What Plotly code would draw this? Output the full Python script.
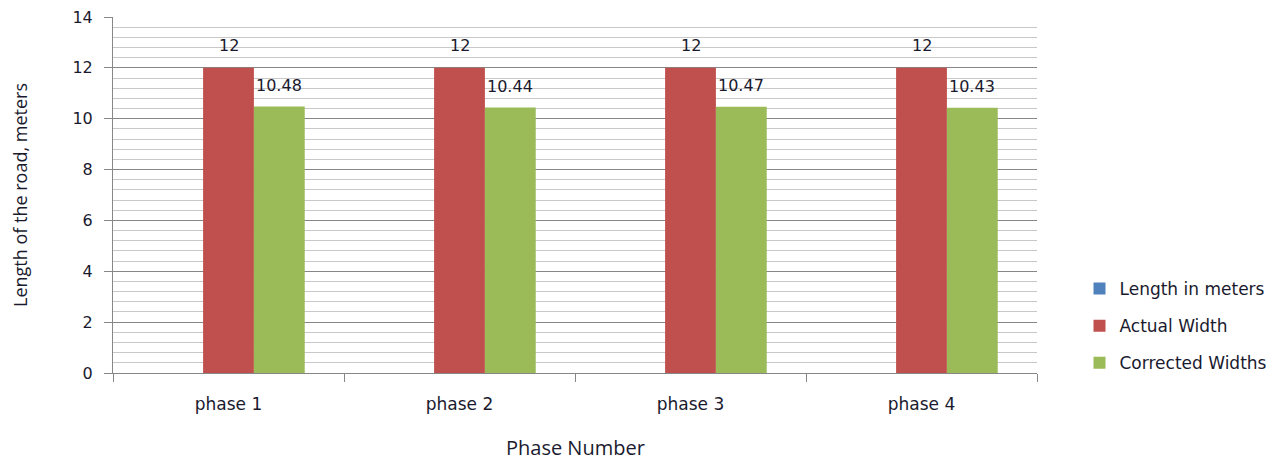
import plotly.graph_objects as go

phases = ["phase 1", "phase 2", "phase 3", "phase 4"]
length_m = [0, 0, 0, 0]
actual_width = [12, 12, 12, 12]
corrected_widths = [10.48, 10.44, 10.47, 10.43]

text_color = "#1a1a2e"
label_font = dict(family="DejaVu Sans", size=16, color=text_color)

fig = go.Figure()
fig.add_trace(go.Bar(
    x=phases, y=length_m, name="Length in meters", legendgroup="a",
    marker=dict(color="#4F81BD", line=dict(width=0)),
))
fig.add_trace(go.Bar(
    x=phases, y=actual_width, name="Actual Width", legendgroup="b",
    marker=dict(color="#C0504D", line=dict(width=0)),
))
fig.add_trace(go.Bar(
    x=phases, y=corrected_widths, name="Corrected Widths", legendgroup="c",
    marker=dict(color="#9BBB59", line=dict(width=0)),
))

# value labels above the red and green bars of each group
plot_w = 1278 - 113 - 241
bargap = 0.34
bar_px = plot_w / len(phases) * (1 - bargap) / 3
value_labels = []
for p, a, c in zip(phases, actual_width, corrected_widths):
    value_labels.append(dict(text=f"{a:g}", x=p, y=a, xref="x", yref="y",
                             xanchor="center", yanchor="bottom", yshift=11,
                             showarrow=False, font=label_font))
    value_labels.append(dict(text=f"{c:.2f}", x=p, y=c, xref="x", yref="y",
                             xanchor="center", yanchor="bottom", yshift=10, xshift=bar_px,
                             showarrow=False, font=label_font))

fig.update_layout(
    width=1278, height=460,
    margin=dict(l=113, r=241, t=17, b=87, autoexpand=False),
    paper_bgcolor="white", plot_bgcolor="white",
    barmode="group", bargap=bargap, bargroupgap=0,
    showlegend=True,
    legend=dict(
        x=1.046, y=0.132, xanchor="left", yanchor="middle",
        font=dict(family="DejaVu Sans", size=17, color=text_color),
        itemsizing="constant", tracegroupgap=12, traceorder="grouped",
        itemwidth=30,
        bgcolor="rgba(0,0,0,0)",
    ),
    annotations=value_labels + [
        dict(text="Phase Number", xref="paper", yref="paper", x=0.5, y=0,
             xanchor="center", yanchor="middle", yshift=-74, showarrow=False,
             font=dict(family="Open Sans", size=20, color=text_color)),
        dict(text="Length of the road, meters", xref="paper", yref="paper", x=0, y=0.5,
             xanchor="center", yanchor="middle", xshift=-93, textangle=-90, showarrow=False,
             font=dict(family="Open Sans", size=18, color=text_color)),
    ],
)

fig.update_xaxes(
    automargin=False,
    showline=True, linecolor="#878787", linewidth=1,
    ticks="outside", tickcolor="#878787", ticklen=8,
    tickson="boundaries", ticklabelstandoff=16,
    tickfont=dict(family="DejaVu Sans", size=17, color=text_color),
    showgrid=False,
)
fig.update_yaxes(
    automargin=False,
    range=[0, 14], dtick=2,
    showline=True, linecolor="#878787", linewidth=1,
    ticks="outside", tickcolor="#878787", ticklen=8,
    ticklabelstandoff=8,
    showgrid=True, gridcolor="#878787", gridwidth=1,
    minor=dict(dtick=0.4, showgrid=True, gridcolor="#C8C8C8", gridwidth=1),
    zeroline=False,
    tickfont=dict(family="DejaVu Sans", size=16, color=text_color),
)

fig.write_html("out.html")
